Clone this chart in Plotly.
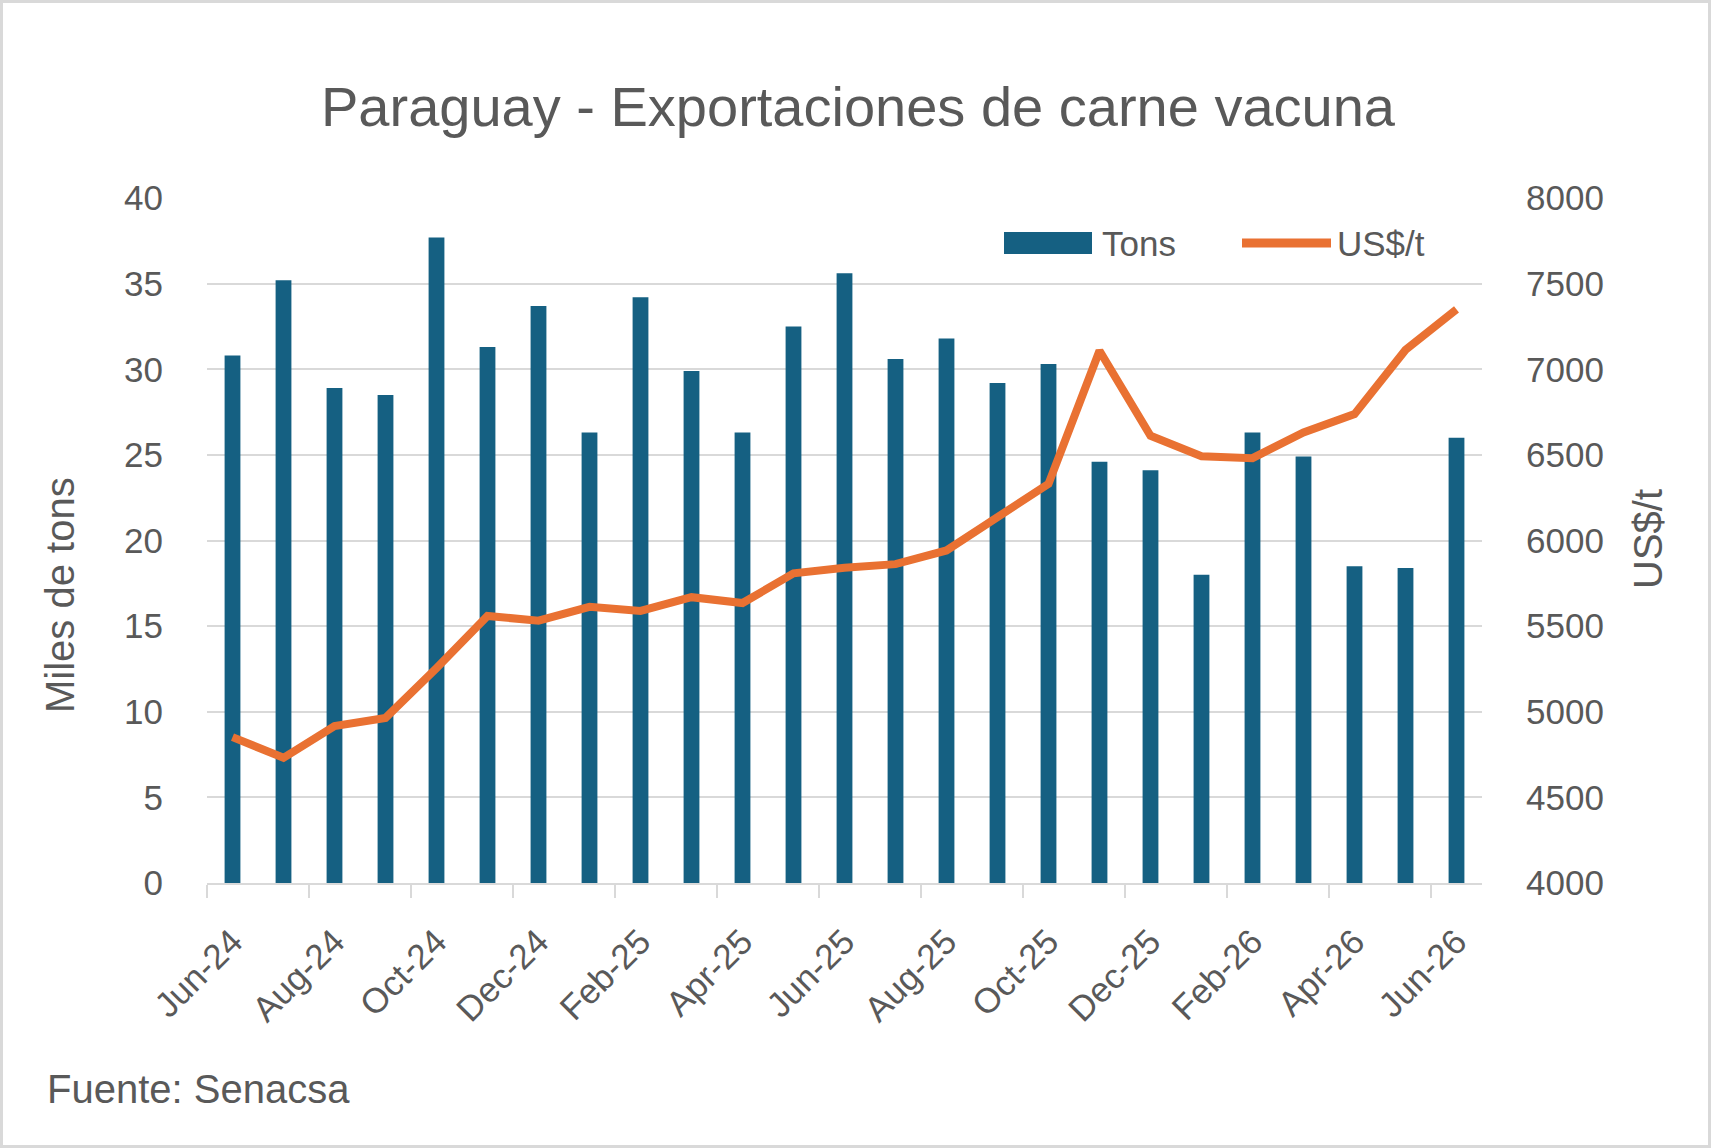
import plotly.graph_objects as go

months = ["Jun-24", "Jul-24", "Aug-24", "Sep-24", "Oct-24", "Nov-24", "Dec-24",
          "Jan-25", "Feb-25", "Mar-25", "Apr-25", "May-25", "Jun-25", "Jul-25",
          "Aug-25", "Sep-25", "Oct-25", "Nov-25", "Dec-25", "Jan-26", "Feb-26",
          "Mar-26", "Apr-26", "May-26", "Jun-26"]
tons = [30.8, 35.2, 28.9, 28.5, 37.7, 31.3, 33.7, 26.3, 34.2, 29.9, 26.3, 32.5,
        35.6, 30.6, 31.8, 29.2, 30.3, 24.6, 24.1, 18.0, 26.3, 24.9, 18.5, 18.4, 26.0]
usd_t = [4852, 4731, 4916, 4964, 5255, 5559, 5532, 5613, 5589, 5669, 5635, 5808,
         5841, 5862, 5942, 6138, 6331, 7108, 6612, 6492, 6481, 6631, 6738, 7113, 7349]

W, H = 1711, 1148
L, R, T, B = 207, 1482, 198, 883
PW, PH = R - L, B - T


def px(x):
    return (x - L) / PW


def py(y):
    return (B - y) / PH


BLUE = "#156082"
ORANGE = "#E97132"
GRAY = "#595959"
GRID = "#D9D9D9"
FONT = "Liberation Sans, Arial, sans-serif"

idx = list(range(len(months)))

fig = go.Figure()
fig.add_trace(go.Bar(x=idx, y=tons, name="Tons", marker_color=BLUE,
                     marker_line_width=0, width=0.31, yaxis="y"))
fig.add_trace(go.Scatter(x=idx, y=usd_t, name="US$/t", mode="lines",
                         line=dict(color=ORANGE, width=8), yaxis="y2"))

fig.update_layout(
    width=W, height=H,
    margin=dict(l=L, r=W - R, t=T, b=H - B),
    paper_bgcolor="white", plot_bgcolor="white",
    showlegend=False,
    font=dict(family=FONT, color=GRAY, size=35),
    xaxis=dict(
        range=[-0.5, len(months) - 0.5],
        tickmode="array",
        tickvals=idx[::2],
        ticktext=months[::2],
        tickangle=-45,
        ticks="outside", ticklen=22, tickcolor="rgba(0,0,0,0)",
        tickfont=dict(size=35, color=GRAY),
        showgrid=False, zeroline=False,
        showline=True, linecolor=GRID, linewidth=2,
        minor=dict(tick0=-0.5, dtick=2, ticks="outside", ticklen=13,
                   tickcolor=GRID, tickwidth=2, showgrid=False),
    ),
    yaxis=dict(
        range=[0, 40], dtick=5, tick0=0,
        showgrid=True, gridcolor=GRID, gridwidth=2,
        zeroline=False, showline=False,
        ticks="outside", ticklen=36, tickcolor="rgba(0,0,0,0)",
        tickfont=dict(size=35, color=GRAY),
    ),
    yaxis2=dict(
        range=[4000, 8000], dtick=500, tick0=4000,
        overlaying="y", side="right",
        showgrid=False, zeroline=False, showline=False,
        ticks="outside", ticklen=36, tickcolor="rgba(0,0,0,0)",
        tickfont=dict(size=35, color=GRAY),
    ),
)

annotations = [
    dict(text="Paraguay - Exportaciones de carne vacuna", x=px(858), y=py(106),
         xanchor="center", yanchor="middle", font=dict(size=56, color=GRAY)),
    dict(text="Miles de tons", x=px(60), y=py(595), textangle=-90,
         xanchor="center", yanchor="middle", font=dict(size=40, color=GRAY)),
    dict(text="US$/t", x=px(1648), y=py(539), textangle=-90,
         xanchor="center", yanchor="middle", font=dict(size=40, color=GRAY)),
    dict(text="Fuente: Senacsa", x=px(45), y=py(1089),
         xanchor="left", yanchor="middle", font=dict(size=40, color=GRAY)),
    dict(text="Tons", x=px(1100), y=py(243),
         xanchor="left", yanchor="middle", font=dict(size=35, color=GRAY)),
    dict(text="US$/t", x=px(1335), y=py(243),
         xanchor="left", yanchor="middle", font=dict(size=35, color=GRAY)),
]
for a in annotations:
    a.update(xref="paper", yref="paper", showarrow=False)
fig.update_layout(annotations=annotations)

shapes = [
    dict(type="rect", xref="paper", yref="paper",
         x0=px(1004), x1=px(1092), y0=py(254), y1=py(232),
         fillcolor=BLUE, line=dict(width=0)),
    dict(type="line", xref="paper", yref="paper",
         x0=px(1242), x1=px(1331), y0=py(243), y1=py(243),
         line=dict(color=ORANGE, width=9)),
    dict(type="rect", xref="paper", yref="paper",
         x0=px(1.5), x1=px(W - 1.5), y0=py(1.5), y1=py(H - 1.5),
         line=dict(color=GRID, width=3), fillcolor="rgba(0,0,0,0)", layer="below"),
]
fig.update_layout(shapes=shapes)

fig.write_html("out.html")
